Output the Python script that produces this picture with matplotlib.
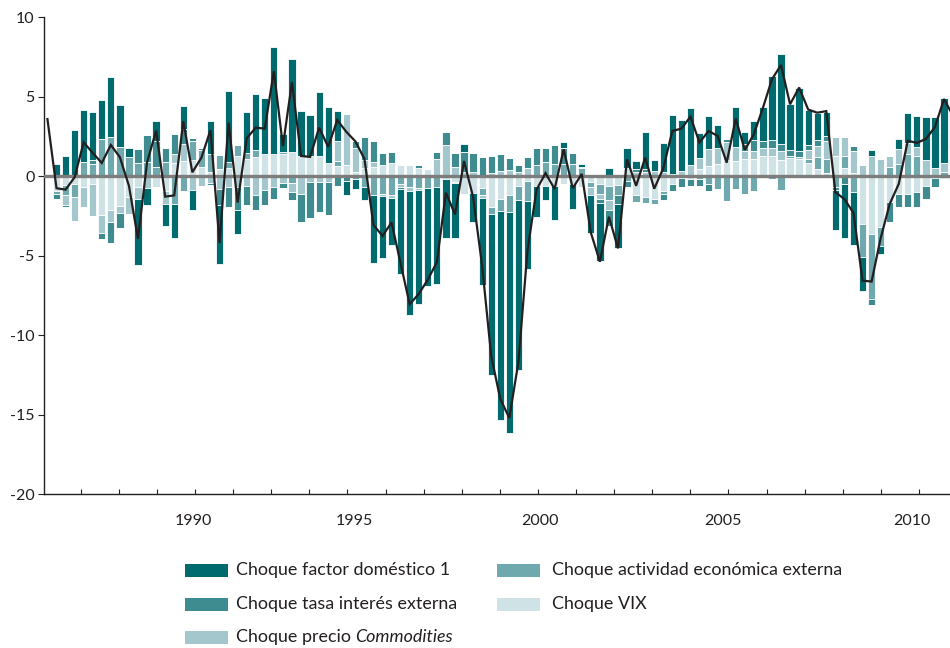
import numpy as np
import matplotlib
matplotlib.use("Agg")
import matplotlib.pyplot as plt
from matplotlib.patches import Rectangle

plt.rcParams['font.family'] = ['Lato', 'DejaVu Sans']
plt.rcParams['axes.unicode_minus'] = False

# ---------------- data (quarters 1..100, line 0..100) ----------------
quarters = np.arange(1, 101)
line_x = np.arange(0, 101)

dom = [0.78, 1.26, 2.9, 3.25, 3.0, 2.45, 3.8, 2.65, 0.6, -4.2,
       -1.05, 1.26, -1.36, -2.1, 1.4, -1.26, 0, 2.1, -3.7, 4.45,
       -1.5, 2.6, 3.5, 3.5, 6.75, 1.15, 5.9, 2.83, 2.55, 4.0,
       3.5, 1.85, -0.85, -0.6, -0.8, -4.25, -3.9, -2.95, -5.35, -7.75,
       -7.2, -6.15, -6.1, -3.65, -3.4, 0.55, -1.85, -5.5, -10.1, -13.1,
       -13.9, -10.7, -4.3, -1.95, -0.9, -2.15, 0.35, -1.55, 0.15, -2.35,
       -3.65, 0.55, -2.75, 1.26, 0.5, 2.35, 0.65, 1.8, 3.7, 3.2,
       3.6, 1.57, 2.1, 1.5, 0, 2.5, 0.8, 1.15, 2.1, 4.0,
       5.66, 2.9, 3.95, 2.2, 1.7, 1.5, -2.55, -3.4, -3.3, -2.1,
       0.38, -0.5, 0, 0.65, 1.9, 1.95, 2.75, 3.2, 4.1, 2.5]

tasa = [-0.32, -0.15, 0, 0, 0.25, -0.4, -1.35, -0.95, 0, 0.85,
        1.7, 1.6, 0.9, 1.26, 0.95, 0.2, 0.15, -0.1, -1.0, -1.3,
        -1.4, -1.2, -0.9, -0.95, -0.75, -0.3, -0.5, -1.75, -2.3, -1.9,
        -2.1, -0.6, -0.3, 0.4, 1.45, 1.35, 0.75, 0.65, -0.1, 0,
        0.15, 0, 0.4, 0.85, 0.85, 1.2, 1.15, 1.24, 1.1, 1.05,
        0.75, 0.4, 0.7, 1.05, 0.85, 1.2, 1.05, 0.7, 0.1, 0,
        -0.3, -1.0, -0.6, -0.35, 0.15, 0.15, 0, -0.4, -0.45, -0.55,
        -0.4, -0.45, -0.45, 0, 0.2, 0, 0.4, 0.7, 0.5, 0.5,
        0.45, 0.4, 0.4, 0.3, 0.37, 0.35, -0.2, -0.5, 0.3, 0,
        -0.4, 0, -1.3, -0.8, -0.8, -0.9, -0.8, -0.6, -0.1, -0.3]

com = [0, -0.6, -1.5, -1.25, -2.0, -1.1, -0.7, -0.45, -1.1, -0.7,
       -0.75, 0, -0.85, 0.55, 1.1, -0.85, -0.6, -0.45, -0.8, -0.65,
       -0.7, -0.6, -1.2, -0.85, -0.7, -0.45, -0.6, -1.1, -0.35, -0.35,
       -0.35, 1.3, 3.2, 1.5, 0.5, 0.3, -0.15, -0.15, -0.2, -0.25,
       -0.1, 0, 1.1, 1.95, 0.6, 0.3, 0.3, -0.2, 0.2, 0.35,
       0.4, 0.3, 0.5, 0, 0, 0, 0, 0, 0, -0.5,
       -0.3, -0.6, 0, 0, 0.3, 0.3, 0.35, 0.27, 0.15, 0.35,
       0.7, 0.7, 1.05, 0.95, 1.1, 0.9, 0.5, 0.5, 0.5, 0.5,
       0.55, 0, 0.1, 0.55, 0.7, 1.1, 1.2, 1.2, 1.4, 0.7,
       1.26, 1.1, 0.7, 0.9, 0.7, 0.55, 1.0, 0.5, 0.55, 1.0]

act = [-0.17, -0.65, -0.8, 0.9, 0.8, 2.35, 2.45, 1.85, 1.2, 0.85,
       0.9, 0.6, 0.9, -1.75, -0.95, 1.2, 1.05, 1.1, 0.9, 0.4,
       0.7, 0.35, 0.45, 0, 0, 0.1, -0.4, 0, 0, 0,
       0, 0.3, 0, -0.2, -0.7, -1.2, -1.1, -1.2, -0.5, -0.7,
       -0.75, -0.75, -0.7, 0, -0.1, 0, 0, -0.4, -0.45, -0.8,
       -1.1, -0.9, -1.25, 0.7, 0.9, 0.75, 0.75, 0.75, 0.5, -0.35,
       -0.6, -0.9, -0.6, -0.3, -0.4, -0.35, -0.3, -0.2, 0, 0,
       0, -0.15, -0.5, -0.8, -1.55, -0.8, -1.1, -0.95, -0.1, -0.2,
       -0.85, 0.1, 0, 0.25, 0.75, 0.9, -0.65, 0.7, -1.0, -2.1,
       -4.1, -1.2, 0.6, 0.8, 1.4, 1.3, 0, 0, 0.3, 0.5]

vix = [-0.95, -0.55, -0.5, -0.65, -0.5, -2.45, -2.15, -1.85, -1.3, -0.7,
       0, -0.7, -0.9, 0.85, 0.95, 1.0, 0.6, 0.3, 0.45, 0.5,
       1.25, 1.1, 1.2, 1.4, 1.4, 1.4, 1.5, 1.3, 1.3, 1.3,
       0.85, 0.65, 0.7, 0.3, 0.5, 0.6, 0.7, 0.85, 0.7, 0.7,
       0.55, 0.48, 0, -0.2, -0.35, -1.1, -1.05, -0.75, -1.95, -1.4,
       -1.15, -0.6, -0.3, -0.6, -0.6, -0.6, -0.5, -0.5, -0.7, -0.35,
       -0.5, -0.6, -0.55, 0.5, -1.2, -1.3, -1.45, -0.9, -0.5, -0.1,
       -0.2, 0.48, 0.65, 0.8, 1.05, 0.95, 1.1, 1.1, 1.25, 1.3,
       1.05, 1.15, 1.1, 0.85, 0.45, 0.2, 1.3, 0.55, 0.2, -3.0,
       -3.6, -3.2, -1.6, -1.1, -1.1, -1.0, -0.6, -0.1, -0.1, 0.3]

total_line = [3.6, -0.75, -0.84, -0.06, 2.14, 1.47, 0.84, 1.97, 1.2, -0.6,
              -3.94, 0.88, 2.87, -1.28, -1.2, 3.46, 0.25, 1.17, 2.9, -4.2,
              3.37, -1.65, 2.39, 3.06, 3.0, 6.62, 1.9, 5.93, 1.28, 1.22,
              3.06, 1.85, 3.54, 2.8, 2.2, 1.1, -3.06, -3.75, -2.9, -5.5,
              -8.05, -7.4, -6.5, -5.4, -1.03, -2.4, 0.96, -1.3, -5.64, -11.3,
              -14.0, -15.2, -11.7, -4.7, -0.85, 0.2, -0.8, 1.7, -0.75, 0.15,
              -3.54, -5.37, -2.54, -4.53, 1.07, -0.6, 1.17, -0.78, 0.5, 2.85,
              3.0, 3.75, 2.12, 2.85, 2.54, 0.86, 3.63, 1.66, 2.64, 4.3,
              6.1, 7.0, 4.53, 5.58, 4.2, 4.0, 4.1, -1.0, -1.43, -2.3,
              -6.56, -6.62, -3.9, -1.74, -0.48, 2.24, 2.1, 2.35, 3.1, 4.86,
              3.8]

y_ticks = [-20, -15, -10, -5, 0, 5, 10]
year_labels = ['1990', '1995', '2000', '2005', '2010']
year_label_pos = [16.07, 33.85, 54.39, 74.6, 95.47]

labels = ['Choque factor doméstico 1', 'Choque tasa interés externa',
          'Choque precio ', 'Choque actividad económica externa', 'Choque VIX']

# ---------------- style ----------------
C_DOM = '#006b6e'
C_TASA = '#3e8b90'
C_COM = '#a3c7cc'
C_ACT = '#6fa8ad'
C_VIX = '#cfe2e5'

W, H = 950, 648
fig = plt.figure(figsize=(W / 100, H / 100), dpi=100)
ax_l, ax_r, ax_t, ax_b = 43.5, 950, 17.3, 494.3
ax = fig.add_axes([ax_l / W, 1 - ax_b / H, (ax_r - ax_l) / W, (ax_b - ax_t) / H])

series = [(vix, C_VIX), (act, C_ACT), (com, C_COM), (tasa, C_TASA), (dom, C_DOM)]
pos_base = np.zeros(len(quarters))
neg_base = np.zeros(len(quarters))
for vals, col in series:
    v = np.asarray(vals, dtype=float)
    p = np.where(v > 0, v, 0.0)
    n = np.where(v < 0, v, 0.0)
    ax.bar(quarters, p, 0.8, bottom=pos_base, color=col, edgecolor='white',
           linewidth=0.6, zorder=2)
    ax.bar(quarters, n, 0.8, bottom=neg_base, color=col, edgecolor='white',
           linewidth=0.6, zorder=2)
    pos_base += p
    neg_base += n

ax.axhline(0, color='#7d7d7d', lw=2.4, zorder=3)
ax.plot(line_x, total_line, color='#231f20', lw=1.6, zorder=4,
        solid_joinstyle='miter')

ax.set_xlim(-0.435, 99.66)
ax.set_ylim(-20, 10)

for s in ['top', 'right']:
    ax.spines[s].set_visible(False)
for s in ['left', 'bottom']:
    ax.spines[s].set_color('#231f20')
    ax.spines[s].set_linewidth(1.0)

ax.set_yticks(y_ticks)
ax.set_yticklabels([str(t) for t in y_ticks])
ax.tick_params(axis='y', direction='out', length=4, width=0.8, pad=2.5,
               labelsize=11.5, colors='#231f20')

xt = 3.673 + 4.207 * np.arange(23)
ax.set_xticks(xt)
ax.set_xticklabels([])
ax.tick_params(axis='x', direction='in', length=3.5, width=0.8, colors='#231f20')

for lab, xp in zip(year_labels, year_label_pos):
    ax.annotate(lab, xy=(xp, 0), xycoords=('data', 'axes fraction'),
                xytext=(0, -19.5), textcoords='offset points',
                ha='center', va='center', fontsize=11.5, color='#231f20')

# ---------------- legend ----------------
colors = [C_DOM, C_TASA, C_COM, C_ACT, C_VIX]
cols_x = [185, 185, 185, 497, 497]
text_off = [51, 51, 51, 55, 55]
rows_y = [570, 604, 637, 570, 604]
fs = 12.9
renderer = fig.canvas.get_renderer()
for lab, col, px, py, off in zip(labels, colors, cols_x, rows_y, text_off):
    fig.add_artist(Rectangle((px / W, 1 - (py + 6.5) / H), 43 / W, 13 / H,
                             transform=fig.transFigure, facecolor=col,
                             edgecolor='none'))
    t = fig.text((px + off) / W, 1 - py / H, lab.rstrip(), ha='left',
                 va='center', fontsize=fs, color='#231f20')
    if lab.startswith('Choque precio'):
        bb = t.get_window_extent(renderer=renderer)
        fig.text((bb.x1 + 4.5) / W, 1 - py / H, 'Commodities', ha='left',
                 va='center', fontsize=fs, style='italic', color='#231f20')

fig.savefig('out.png', dpi=100)
